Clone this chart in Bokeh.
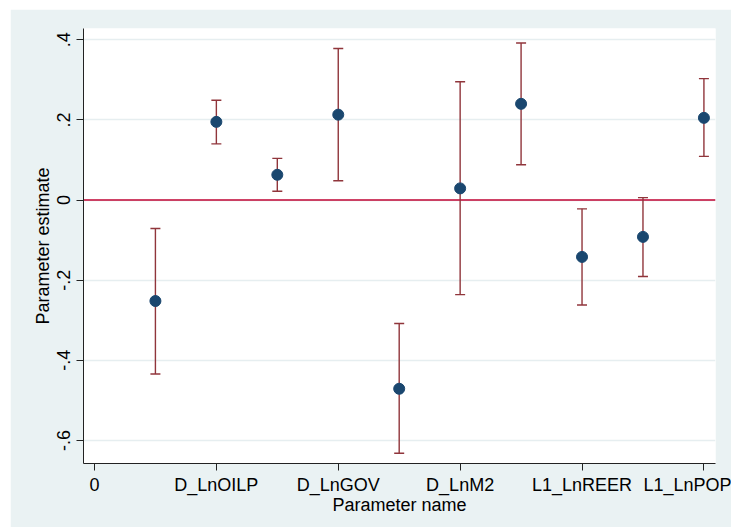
import math
from bokeh.plotting import figure
from bokeh.models import ColumnDataSource, Whisker, Span, FixedTicker, CustomJSTickFormatter, Range1d
from bokeh.embed import file_html
from bokeh.resources import INLINE

# ---- data ----
positions = [1, 2, 3, 4, 5, 6, 7, 8, 9, 10]
estimate = [-0.252, 0.195, 0.063, 0.213, -0.471, 0.029, 0.240, -0.142, -0.092, 0.205]
ci_lower = [-0.434, 0.140, 0.022, 0.048, -0.632, -0.236, 0.088, -0.262, -0.191, 0.109]
ci_upper = [-0.071, 0.249, 0.104, 0.378, -0.308, 0.295, 0.392, -0.022, 0.006, 0.303]

x_tick_positions = [0, 2, 4, 6, 8, 10]
x_tick_labels = ["0", "D_LnOILP", "D_LnGOV", "D_LnM2", "L1_LnREER", "L1_LnPOP"]
y_tick_positions = [-0.6, -0.4, -0.2, 0.0, 0.2, 0.4]
reference_value = 0.0

FONT = "Liberation Sans"
BG = "#eaf2f3"
NAVY = "#1a476f"
MAROON = "#90353b"
RED = "#c10534"

src = ColumnDataSource(dict(x=positions, y=estimate, lo=ci_lower, hi=ci_upper))

p = figure(width=721, height=518, output_backend="svg", toolbar_location=None,
           x_range=Range1d(-0.18, 10.19), y_range=Range1d(-0.6575, 0.428),
           min_border_left=73, min_border_top=19, min_border_right=16, min_border_bottom=64,
           margin=(9, 0, 0, 10))

p.background_fill_color = "white"
p.border_fill_color = BG
p.outline_line_color = None

p.xgrid.grid_line_color = None
p.ygrid.grid_line_color = "#e6eef0"
p.ygrid.grid_line_width = 1.5
p.ygrid.ticker = FixedTicker(ticks=y_tick_positions)

zero = Span(location=reference_value, dimension="width", line_color=RED, line_width=1.5, level="underlay")
p.add_layout(zero)

w = Whisker(source=src, base="x", lower="lo", upper="hi", line_color=MAROON, line_width=1.4)
w.upper_head.size = 10
w.lower_head.size = 10
w.upper_head.line_color = MAROON
w.lower_head.line_color = MAROON
w.upper_head.line_width = 1.4
w.lower_head.line_width = 1.4
p.add_layout(w)

p.scatter("x", "y", source=src, size=11, fill_color=NAVY, line_color=NAVY)

# x axis
p.xaxis.ticker = FixedTicker(ticks=x_tick_positions)
p.xaxis.major_label_overrides = {k: v for k, v in zip(x_tick_positions, x_tick_labels)}
p.xaxis.axis_label = "Parameter name"

# y axis
p.yaxis.ticker = FixedTicker(ticks=y_tick_positions)
p.yaxis.formatter = CustomJSTickFormatter(code="""
    if (Math.abs(tick) < 1e-9) return "0";
    var s = tick.toFixed(1);
    return s.replace("0.", ".");
""")
p.yaxis.major_label_orientation = "vertical"
p.yaxis.axis_label = "Parameter estimate"

for ax in (p.xaxis[0], p.yaxis[0]):
    ax.axis_line_color = "#222222"
    ax.axis_line_width = 1
    ax.major_tick_line_color = "#222222"
    ax.major_tick_in = 0
    ax.major_tick_out = 7
    ax.minor_tick_line_color = None
    ax.major_label_text_font = FONT
    ax.major_label_text_font_size = "18px"
    ax.major_label_text_color = "black"
    ax.axis_label_text_font = FONT
    ax.axis_label_text_font_size = "18px"
    ax.axis_label_text_font_style = "normal"
    ax.axis_label_text_color = "black"

p.xaxis.major_label_standoff = 4
p.xaxis.axis_label_standoff = -3
p.yaxis.major_label_standoff = 6
p.yaxis.axis_label_standoff = 2

open("out.html", "w").write(file_html(p, INLINE))
